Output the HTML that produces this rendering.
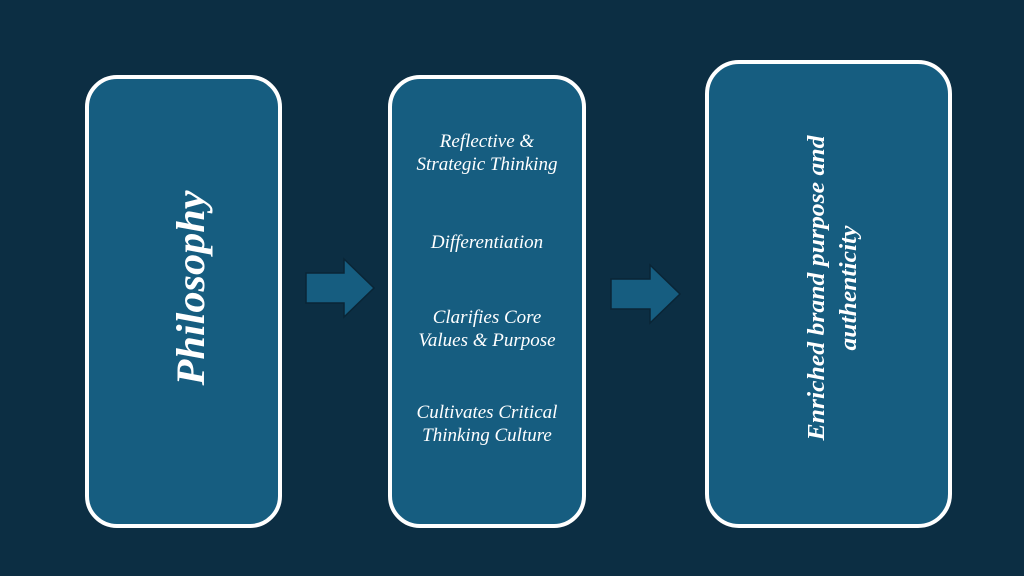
<!DOCTYPE html>
<html><head><meta charset="utf-8"><style>
html,body{margin:0;padding:0;background:#0c2e43;}
svg{display:block}
</style></head><body>
<svg width="1024" height="576" viewBox="0 0 1024 576" xmlns="http://www.w3.org/2000/svg">
<rect width="1024" height="576" fill="#0c2e43"/>
<g fill="#165d80" stroke="#ffffff" stroke-width="4">
<rect x="87" y="77" width="193" height="449" rx="30"/>
<rect x="390" y="77" width="194" height="449" rx="30"/>
<rect x="707" y="62" width="243" height="464" rx="32"/>
</g>
<g fill="#165d80" stroke="#0a2536" stroke-width="1.5">
<polygon points="306,273 344,273 344,259 374,288 344,317 344,303 306,303"/>
<polygon points="611,279 650,279 650,265 680,294 650,323 650,309 611,309"/>
</g>
<g font-family="Liberation Serif, serif" font-style="italic" fill="#ffffff" text-anchor="middle">
<text transform="translate(204,288) rotate(-90)" font-size="40" font-weight="bold" textLength="195" lengthAdjust="spacingAndGlyphs">Philosophy</text>
<text transform="translate(824,288) rotate(-90)" font-size="24" font-weight="bold" textLength="305" lengthAdjust="spacingAndGlyphs">Enriched brand purpose and</text>
<text transform="translate(856,288) rotate(-90)" font-size="24" font-weight="bold" textLength="125" lengthAdjust="spacingAndGlyphs">authenticity</text>
<g font-size="19">
<text x="487" y="147">Reflective &amp;</text>
<text x="487" y="170">Strategic Thinking</text>
<text x="487" y="248">Differentiation</text>
<text x="487" y="323">Clarifies Core</text>
<text x="487" y="346">Values &amp; Purpose</text>
<text x="487" y="418">Cultivates Critical</text>
<text x="487" y="441">Thinking Culture</text>
</g>
</g>
</svg>
</body></html>
